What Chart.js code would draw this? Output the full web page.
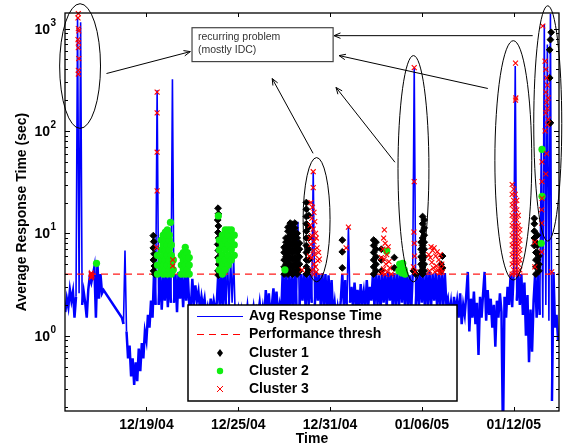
<!DOCTYPE html>
<html lang="en">
<head>
<meta charset="UTF-8">
<title>Average Response Time</title>
<style>body{margin:0;background:#fff}</style>
</head>
<body>
<canvas id="resp" width="572" height="447"></canvas>
<script src="https://cdn.jsdelivr.net/npm/chart.js@4.4.0/dist/chart.umd.min.js"></script>
<script>
// x values are days since 12/19/04 00:00
const dayTicks = [0, 6, 12, 18, 24]
const dayLabels = ['12/19/04', '12/25/04', '12/31/04', '01/06/05', '01/12/05']
const decadeTicks = [1, 10, 100, 1000]
const perfThresh = 4.0

// avg response time (sec), one sample every 0.1 day from day -5.3, null = no data
const respStart = -5.3
const respStep = 0.1
const respSec = [
  1.7, 2.3, 1.9, 2.8, 2.2, 2.7, 1.5, 2.4, 1300, 2.6,
  1150, 2.0, 2.7, 2.1, 1.5, 2.8, 3.8, 3.3, 3.9, 4.7,
  1.5, 5.1, 2.3, 4.0, 2.6, 2.8, null, null, null, null,
  null, null, null, null, null, null, null, 1.5, 1.3, 6.8,
  1.1, 0.6, 0.8, 0.4, 0.6, 0.33, 0.55, 0.36, 0.75, 0.45,
  0.85, 0.6, 1.1, 0.9, 1.6, 1.2, 2.2, 1.5, 4.2, 2.0,
  250, 2.0, 4.1, 1.8, 3.9, 2.2, 4.2, 1.9, 4.0, 2.1,
  320, 2.1, 4.0, 1.7, 4.2, 2.3, 3.9, 1.9, 4.1, 2.2,
  4.0, 2.0, 1.8, 3.6, 2.0, 3.1, 2.2, 2.7, 1.8, 2.4,
  1.9, 2.3, 1.6, 1.9, 1.5, 2.3, 1.7, 2.2, 1.8, 2.1,
  4.2, 1.8, 4.0, 1.9, 4.3, 2.0, 5.5, 1.8, 6.0, 2.1,
  5.8, 1.6, 1.5, 1.8, 1.3, 1.7, 1.2, 1.6, 1.4, 1.9,
  1.3, 1.7, 1.5, 1.9, 1.4, 1.8, 1.6, 2.1, 1.5, 1.9,
  1.4, 2.8, 1.6, 2.6, 1.5, 2.0, 2.9, 1.7, 2.7, 1.6,
  2.0, 1.5, 4.0, 1.8, 4.2, 1.6, 4.0, 1.9, 4.1, 1.7,
  4.2, 2.0, 13, 1.8, 4.0, 2.2, 4.1, 1.9, 4.2, 2.0,
  4.0, 2.1, 40, 1.9, 4.2, 2.2, 4.0, 1.8, 4.1, 2.0,
  4.0, 1.7, 3.9, 1.9, 3.5, 1.6, 2.1, 1.4, 1.9, 1.5,
  2.2, 4.0, 2.0, 3.5, 1.8, 11.5, 2.1, 3.0, 1.9, 3.3,
  2.0, 2.8, 1.7, 3.2, 2.1, 2.7, 1.8, 3.5, 2.0, 3.0,
  2.2, 4.0, 1.9, 4.2, 2.0, 3.9, 1.8, 4.1, 2.1, 4.0,
  1.9, 4.2, 2.2, 4.0, 1.8, 4.1, 2.0, 4.0, 1.9, 4.3,
  2.1, 4.5, 1.8, 4.1, 2.0, 3.9, 1.7, 4.0, 415, 2.0,
  4.0, 1.9, 4.2, 2.1, 4.0, 1.8, 4.1, 2.0, 4.2, 1.9,
  4.0, 2.2, 4.1, 1.8, 4.0, 2.0, 4.2, 1.9, 4.1, 2.0,
  2.3, 1.6, 2.1, 1.4, 2.4, 1.7, 2.2, 1.5, 2.6, 1.3,
  2.0, 1.6, 2.5, 4.2, 1.1, 2.3, 1.5, 2.7, 1.3, 2.1,
  0.65, 2.4, 1.5, 2.6, 4.2, 1.4, 2.8, 1.6, 2.3, 1.2,
  2.0, 0.78, 2.2, 1.5, 2.6, 1.7, 0.1, 2.4, 1.5, 3.0,
  2.0, 4.0, 1.9, 4.2, 430, 2.2, 4.1, 2.0, 4.0, 1.6,
  3.3, 1.0, 2.5, 0.55, 1.8, 0.7, 2.2, 4.0, 1.5, 4.2,
  1.6, 66, 1.5, 1100, 2.0, 700, 1.4, 1400, 0.23, 4.2,
  1.2, 1.6, 0.9
]

// [day, sec]
const cluster1 = [
  [0.45, 9.5], [0.48, 8.3], [0.45, 7.2], [0.5, 6.3], [0.46, 5.5], [0.52, 4.8], [0.47, 4.3], [0.55, 4.0],
  [4.68, 17.6], [4.7, 15.5], [4.66, 13.5], [4.7, 11.8], [4.68, 10.2], [4.72, 9.0], [4.66, 7.8], [4.7, 6.8],
  [4.68, 5.8], [4.72, 5.0], [4.68, 4.3], [4.7, 3.9],
  [9.0, 4.0], [9.0, 4.7], [9.0, 5.5], [9.0, 6.5], [9.0, 7.3],
  [9.12, 4.3], [9.12, 5.0], [9.12, 5.9], [9.12, 7.0], [9.12, 8.2], [9.12, 9.0],
  [9.25, 4.0], [9.25, 4.7], [9.25, 5.5], [9.25, 6.5], [9.25, 7.6], [9.25, 9.0], [9.25, 10.5], [9.25, 11.5],
  [9.4, 4.3], [9.4, 5.0], [9.4, 5.9], [9.4, 7.0], [9.4, 8.2], [9.4, 9.6], [9.4, 11.3], [9.4, 12.6],
  [9.55, 4.0], [9.55, 4.7], [9.55, 5.5], [9.55, 6.5], [9.55, 7.6], [9.55, 9.0], [9.55, 10.5], [9.55, 12.2],
  [9.7, 4.3], [9.7, 5.0], [9.7, 5.9], [9.7, 7.0], [9.7, 8.2], [9.7, 9.6], [9.7, 11.3], [9.7, 12.6],
  [9.85, 4.0], [9.85, 4.7], [9.85, 5.5], [9.85, 6.5], [9.85, 7.6], [9.85, 9.0], [9.85, 10.0],
  [10.0, 4.3], [10.0, 5.0], [10.0, 5.9], [10.0, 7.0], [10.0, 8.0],
  [10.45, 4.0], [10.45, 4.7], [10.45, 5.5], [10.45, 6.5], [10.45, 7.6], [10.45, 9.0], [10.45, 10.5],
  [10.45, 12.4], [10.45, 14.6], [10.45, 17.2], [10.45, 20],
  [10.6, 4.3], [10.6, 5.5], [10.6, 7.0], [10.6, 9.0], [10.6, 11.5], [10.6, 15.0],
  [12.8, 8.6], [12.8, 6.6], [12.8, 4.6],
  [14.85, 4.0], [14.85, 4.7], [14.85, 5.5], [14.85, 6.5], [14.85, 7.6], [14.85, 8.6],
  [15.0, 4.3], [15.0, 5.0], [15.0, 5.9], [15.0, 7.0], [15.0, 8.2],
  [15.35, 4.3], [15.35, 5.5], [15.35, 7.0], [16.2, 5.8], [16.2, 4.6],
  [17.95, 4.3], [17.95, 5.0], [17.95, 5.9], [17.95, 7.0], [17.95, 8.2],
  [18.05, 4.0], [18.05, 4.7], [18.05, 5.5], [18.05, 6.5], [18.05, 7.6], [18.05, 9.0], [18.05, 10.5],
  [18.05, 12.4], [18.05, 14.6],
  [18.15, 4.3], [18.15, 5.0], [18.15, 5.9], [18.15, 7.0], [18.15, 8.2], [18.15, 9.6], [18.15, 11.3], [18.15, 13.5],
  [17.45, 4.3], [17.6, 4.0], [19.25, 5.0], [19.25, 4.3], [19.35, 6.0], [19.35, 4.6],
  [25.35, 14], [25.35, 12.4], [25.35, 10.5], [25.35, 9.0], [25.35, 7.6],
  [25.45, 8.2], [25.45, 6.5], [25.45, 5.5], [25.45, 4.7], [25.45, 4.0],
  [25.55, 9.6], [25.55, 7.6], [25.55, 6.5], [25.55, 5.5], [25.55, 4.7],
  [25.65, 6.0], [25.65, 5.0], [25.65, 4.3],
  [26.45, 920], [26.4, 780], [26.35, 620], [26.35, 330], [26.4, 120]
]

const cluster2 = [
  [-3.26, 5.1],
  [0.72, 4.0], [0.72, 4.9], [0.72, 6.1],
  [0.98, 4.4], [0.98, 5.5], [0.98, 6.9], [0.98, 8.6],
  [1.1, 4.0], [1.1, 4.9], [1.1, 6.1], [1.1, 7.7], [1.1, 9.6],
  [1.24, 4.4], [1.24, 5.5], [1.24, 6.9], [1.24, 8.6], [1.24, 10.3],
  [1.37, 4.0], [1.37, 4.9], [1.37, 6.1], [1.37, 7.7], [1.37, 9.6], [1.37, 10.8],
  [1.5, 4.4], [1.5, 5.5], [1.5, 6.9], [1.5, 8.6], [1.5, 9.6], [1.57, 12.8],
  [1.63, 4.0], [1.63, 4.9], [1.63, 6.1], [1.63, 7.7], [1.76, 4.4], [1.76, 5.5],
  [2.28, 4.0], [2.28, 4.9], [2.28, 6.1], [2.41, 4.4], [2.41, 5.5], [2.41, 6.5],
  [2.54, 4.0], [2.54, 4.9], [2.54, 6.1], [2.54, 7.3], [2.67, 4.4], [2.67, 5.5], [2.67, 6.5],
  [2.8, 4.0], [2.8, 4.9], [2.8, 5.8],
  [4.7, 14.8],
  [4.76, 4.4], [4.76, 5.5], [4.76, 6.9], [4.76, 8.6],
  [4.96, 4.0], [4.96, 4.9], [4.96, 6.1], [4.96, 7.7], [4.96, 9.6],
  [5.15, 4.4], [5.15, 5.5], [5.15, 6.9], [5.15, 8.6], [5.15, 10.8],
  [5.35, 4.9], [5.35, 6.1], [5.35, 7.7], [5.35, 9.6], [5.35, 10.8],
  [5.55, 5.5], [5.55, 6.9], [5.55, 8.6], [5.55, 10.8],
  [5.74, 6.1], [5.74, 7.7], [5.74, 9.6],
  [9.05, 4.4],
  [15.7, 6.7], [16.5, 4.3], [16.55, 5.0], [16.65, 4.6], [16.7, 4.1], [16.75, 5.1], [16.85, 4.4], [16.9, 4.0],
  [25.85, 66], [25.85, 23], [25.8, 8.0]
]

const cluster3 = [
  [-4.45, 1400], [-4.47, 1270], [-4.45, 1000], [-4.42, 950], [-4.47, 780], [-4.44, 730], [-4.45, 650],
  [-4.42, 510], [-4.45, 390], [-4.45, 360],
  [-3.62, 4.0], [-3.58, 3.8], [-3.6, 4.1], [-3.55, 3.9], [-3.6, 3.7],
  [0.7, 240], [0.7, 150], [0.7, 62], [0.7, 26], [0.66, 7.3], [1.72, 5.5], [1.72, 4.8],
  [10.17, 4.4],
  [10.9, 40], [10.9, 28], [10.75, 20], [10.85, 18], [10.95, 16], [10.8, 14], [11.0, 13], [10.7, 12],
  [10.9, 11], [11.05, 10], [10.8, 9.5], [11.1, 9.0], [10.95, 8.3], [10.75, 7.8], [11.15, 7.2], [10.9, 6.8],
  [11.0, 6.2], [10.8, 5.8], [11.2, 5.4], [10.95, 5.0], [11.05, 4.7], [10.85, 4.4], [11.1, 4.2], [10.95, 4.0],
  [11.25, 6.5], [11.3, 5.6], [10.7, 9.0], [10.65, 6.0],
  [13.2, 11.5], [13.05, 7.2],
  [15.55, 10.8], [15.5, 9.0], [15.6, 8.0], [15.45, 7.0], [15.7, 6.2], [15.55, 5.6], [15.65, 5.0], [15.5, 4.5],
  [15.75, 4.2], [15.6, 4.0], [15.85, 5.3], [15.9, 4.6], [16.0, 4.0], [15.4, 4.1], [15.8, 7.4], [15.35, 5.8],
  [17.5, 415], [17.5, 32], [17.48, 10.3], [17.5, 8.0], [17.52, 6.0], [17.45, 4.7], [17.55, 4.2],
  [18.45, 6.2], [18.5, 4.3], [18.55, 5.8], [18.6, 7.4], [18.65, 5.2], [18.7, 6.8], [18.75, 4.6], [18.8, 7.2],
  [18.85, 4.2], [18.9, 6.0], [18.95, 4.8], [19.0, 6.6], [19.05, 4.4], [19.1, 5.5], [19.15, 4.1], [19.2, 6.2],
  [19.25, 4.5], [19.3, 5.0], [19.35, 4.2],
  [23.9, 4.0], [23.9, 5.0], [23.9, 6.2], [23.9, 7.7], [23.9, 9.6], [23.9, 12], [23.9, 15], [23.9, 19], [23.9, 24], [23.9, 30],
  [24.0, 4.4], [24.0, 5.5], [24.0, 6.9], [24.0, 8.6], [24.0, 10.8], [24.0, 13.5], [24.0, 17], [24.0, 21], [24.0, 27],
  [24.1, 4.0], [24.1, 5.0], [24.1, 6.2], [24.1, 7.7], [24.1, 9.6], [24.1, 12], [24.1, 15], [24.1, 19], [24.1, 24],
  [24.2, 4.4], [24.2, 5.5], [24.2, 6.9], [24.2, 8.6], [24.2, 10.8], [24.2, 13.5], [24.2, 17], [24.2, 21],
  [24.3, 4.0], [24.3, 5.0], [24.3, 6.2], [24.3, 7.7], [24.3, 9.6], [24.3, 12], [24.3, 15],
  [24.4, 4.4], [24.4, 5.5], [24.4, 6.9], [24.4, 8.6], [24.4, 10.8],
  [24.12, 460], [24.14, 210], [24.12, 200],
  [25.9, 1060], [26.05, 480], [26.1, 400], [26.15, 330], [26.2, 280], [26.1, 240], [26.25, 210], [26.15, 190],
  [26.2, 165], [26.1, 150], [26.25, 130], [26.2, 115], [26.05, 100], [25.85, 50], [26.15, 60], [26.1, 38],
  [25.85, 32], [25.85, 22], [25.38, 8.2], [25.83, 6.6], [25.38, 4.7], [25.83, 17], [25.83, 12.6], [26.48, 4.2]
]

// annotations in data units: [day from, day to, top sec, bottom sec]
const ellipses = [
  [-5.67, -3.0, 1750, 106],
  [10.24, 12.0, 55, 3.36],
  [16.44, 18.46, 545, 3.36],
  [22.77, 25.18, 762, 3.5],
  [25.31, 27.14, 1670, 8.4]
]
const noteBox = [2.98, 12.2, 1020, 476]
const noteText = ['recurring problem', '(mostly IDC)']
// [from day, from sec, to day, to sec]
const arrows = [
  [-2.61, 364, 2.87, 596],
  [10.89, 60.5, 8.22, 325],
  [16.24, 49.5, 12.39, 266],
  [22.31, 260, 12.59, 545],
  [25.24, 853, 12.26, 853]
]

const FONT = '"Liberation Sans", Arial, Helvetica, sans-serif'
const toPts = arr => arr.map(p => ({x: p[0], y: p[1]}))

const respPts = respSec
  .map((v, i) => ({x: respStart + i * respStep, y: v}))
  .filter(p => p.y !== null)

function arrow(ctx, x1, y1, x2, y2) {
  const a = Math.atan2(y2 - y1, x2 - x1)
  ctx.beginPath()
  ctx.moveTo(x1, y1)
  ctx.lineTo(x2, y2)
  ctx.moveTo(x2 - 7 * Math.cos(a - 0.4), y2 - 7 * Math.sin(a - 0.4))
  ctx.lineTo(x2, y2)
  ctx.lineTo(x2 - 7 * Math.cos(a + 0.4), y2 - 7 * Math.sin(a + 0.4))
  ctx.stroke()
}

const overlay = {
  id: 'overlay',
  afterDatasetsDraw(chart) {
    const {ctx, chartArea: area} = chart
    const xs = chart.scales.x, ys = chart.scales.y
    const px = d => xs.getPixelForValue(d)
    const py = v => ys.getPixelForValue(v)
    ctx.save()

    // frame and inward ticks
    ctx.strokeStyle = '#000'
    ctx.lineWidth = 1.3
    ctx.strokeRect(area.left, area.top, area.right - area.left, area.bottom - area.top)
    ctx.lineWidth = 1
    ctx.beginPath()
    dayTicks.forEach(d => {
      const x = Math.round(px(d)) + 0.5
      ctx.moveTo(x, area.bottom); ctx.lineTo(x, area.bottom - 4)
      ctx.moveTo(x, area.top); ctx.lineTo(x, area.top + 4)
    })
    for (let e = -1; e <= 3; e++) {
      for (let m = 1; m <= 9; m++) {
        const v = m * Math.pow(10, e)
        if (v < ys.min || v > ys.max) continue
        const y = Math.round(py(v)) + 0.5
        const len = m === 1 ? 5 : 3
        ctx.moveTo(area.left, y); ctx.lineTo(area.left + len, y)
        ctx.moveTo(area.right, y); ctx.lineTo(area.right - len, y)
      }
    }
    ctx.stroke()

    // tick labels
    ctx.fillStyle = '#000'
    ctx.font = 'bold 14px ' + FONT
    ctx.textAlign = 'center'
    ctx.textBaseline = 'middle'
    dayTicks.forEach((d, i) => ctx.fillText(dayLabels[i], px(d), area.bottom + 14))
    decadeTicks.forEach(v => {
      const y = py(v)
      ctx.font = 'bold 14px ' + FONT
      ctx.textAlign = 'right'
      ctx.textBaseline = 'alphabetic'
      ctx.fillText('10', area.left - 15, y + 5)
      ctx.font = 'bold 10px ' + FONT
      ctx.textAlign = 'left'
      ctx.fillText(String(Math.round(Math.log10(v))), area.left - 14.5, y - 3)
    })

    // axis titles
    ctx.font = 'bold 14px ' + FONT
    ctx.textAlign = 'center'
    ctx.textBaseline = 'middle'
    ctx.fillText('Time', (area.left + area.right) / 2, 439)
    ctx.save()
    ctx.translate(22, 212)
    ctx.rotate(-Math.PI / 2)
    ctx.fillText('Average Response Time (sec)', 0, 0)
    ctx.restore()

    // ellipses
    ctx.lineWidth = 1
    ellipses.forEach(([d0, d1, top, bot]) => {
      const x0 = px(d0), x1 = px(d1), y0 = py(top), y1 = py(bot)
      ctx.beginPath()
      ctx.ellipse((x0 + x1) / 2, (y0 + y1) / 2, (x1 - x0) / 2, (y1 - y0) / 2, 0, 0, Math.PI * 2)
      ctx.stroke()
    })

    // note box + arrows
    const bx = px(noteBox[0]), bx1 = px(noteBox[1]), by = py(noteBox[2]), by1 = py(noteBox[3])
    ctx.fillStyle = '#fff'
    ctx.fillRect(bx, by, bx1 - bx, by1 - by)
    ctx.strokeStyle = '#444'
    ctx.lineWidth = 1.2
    ctx.strokeRect(bx, by, bx1 - bx, by1 - by)
    ctx.fillStyle = '#333'
    ctx.font = '10.5px ' + FONT
    ctx.textAlign = 'left'
    ctx.textBaseline = 'middle'
    ctx.fillText(noteText[0], bx + 6, by + 9.5)
    ctx.fillText(noteText[1], bx + 6, by + 22.5)
    ctx.strokeStyle = '#000'
    ctx.lineWidth = 1
    arrows.forEach(([d0, v0, d1, v1]) => arrow(ctx, px(d0), py(v0), px(d1), py(v1)))

    // legend
    const L = {left: 188, top: 305, w: 269, h: 96}
    ctx.fillStyle = '#fff'
    ctx.fillRect(L.left, L.top, L.w, L.h)
    ctx.strokeStyle = '#000'
    ctx.lineWidth = 1.5
    ctx.strokeRect(L.left, L.top, L.w, L.h)
    const rows = [316.5, 334.5, 353, 371, 389]
    const names = ['Avg Response Time', 'Performance thresh', 'Cluster 1', 'Cluster 2', 'Cluster 3']
    ctx.lineWidth = 1.2
    ctx.strokeStyle = '#0000ff'
    ctx.beginPath(); ctx.moveTo(197, rows[0]); ctx.lineTo(243, rows[0]); ctx.stroke()
    ctx.strokeStyle = '#ff0000'
    ctx.setLineDash([7, 5])
    ctx.beginPath(); ctx.moveTo(197, rows[1]); ctx.lineTo(243, rows[1]); ctx.stroke()
    ctx.setLineDash([])
    ctx.fillStyle = '#000'
    ctx.beginPath()
    ctx.moveTo(220, rows[2] - 4); ctx.lineTo(223, rows[2]); ctx.lineTo(220, rows[2] + 4); ctx.lineTo(217, rows[2])
    ctx.closePath(); ctx.fill()
    ctx.fillStyle = '#11ee11'
    ctx.beginPath(); ctx.arc(220, rows[3], 3.2, 0, Math.PI * 2); ctx.fill()
    ctx.strokeStyle = '#ff0000'
    ctx.lineWidth = 1
    ctx.beginPath()
    ctx.moveTo(217, rows[4] - 3); ctx.lineTo(223, rows[4] + 3)
    ctx.moveTo(223, rows[4] - 3); ctx.lineTo(217, rows[4] + 3)
    ctx.stroke()
    ctx.fillStyle = '#000'
    ctx.font = 'bold 14px ' + FONT
    ctx.textAlign = 'left'
    ctx.textBaseline = 'middle'
    names.forEach((n, i) => ctx.fillText(n, 249, rows[i]))

    ctx.restore()
  }
}

new Chart(document.getElementById('resp'), {
  type: 'scatter',
  data: {
    datasets: [
      {
        type: 'line',
        label: 'Avg Response Time',
        data: respPts,
        borderColor: '#0000ff',
        borderWidth: 1.6,
        // the noisy part of the trace is drawn heavier, like the dense original
        segment: {
          borderWidth: c => (c.p0.parsed.y < 5.5 && c.p1.parsed.y < 5.5) ? 2.5 : 1.6
        },
        pointRadius: 0,
        tension: 0,
        order: 5
      },
      {
        type: 'line',
        label: 'Performance thresh',
        data: [{x: -5.32, y: perfThresh}, {x: 26.96, y: perfThresh}],
        borderColor: '#ff1a1a',
        borderWidth: 1.2,
        borderDash: [7, 5],
        pointRadius: 0,
        order: 4
      },
      {
        label: 'Cluster 1',
        data: toPts(cluster1),
        pointStyle: 'rectRot',
        pointRadius: 3.4,
        backgroundColor: '#000',
        borderColor: '#000',
        borderWidth: 1,
        clip: false,
        order: 3
      },
      {
        label: 'Cluster 2',
        data: toPts(cluster2),
        pointStyle: 'circle',
        pointRadius: 3.6,
        backgroundColor: '#11ee11',
        borderColor: '#11ee11',
        borderWidth: 0,
        clip: false,
        order: 2
      },
      {
        label: 'Cluster 3',
        data: toPts(cluster3),
        pointStyle: 'crossRot',
        pointRadius: 3.5,
        borderColor: '#ff0000',
        borderWidth: 1.1,
        clip: false,
        order: 1
      }
    ]
  },
  options: {
    responsive: false,
    animation: false,
    layout: {padding: {left: 65, top: 13, right: 13, bottom: 36}},
    scales: {
      x: {type: 'linear', min: -5.32, max: 26.96, display: false},
      y: {type: 'logarithmic', min: 0.184, max: 1420, display: false}
    },
    plugins: {legend: {display: false}, tooltip: {enabled: false}}
  },
  plugins: [overlay]
})
</script>
</body>
</html>
